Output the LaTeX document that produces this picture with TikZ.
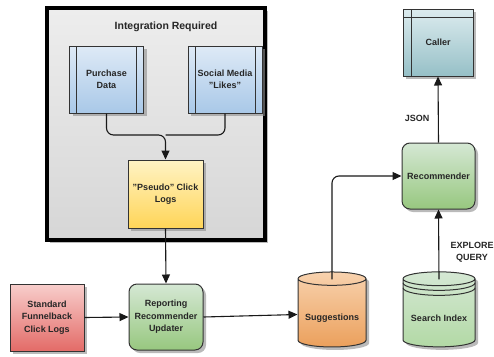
\documentclass[tikz,border=0pt]{standalone}
\usepackage{fontspec}
\setmainfont{Liberation Sans}
\usetikzlibrary{positioning}
\usetikzlibrary{calc}
\usetikzlibrary{arrows.meta}
\usetikzlibrary{shadows}
\usetikzlibrary{shapes.geometric}

\definecolor{linegray}{HTML}{333333}
\definecolor{bluetop}{HTML}{DEEAF6}
\definecolor{bluebot}{HTML}{A9C8E8}
\definecolor{yellowtop}{HTML}{FFF3C4}
\definecolor{yellowbot}{HTML}{FFD558}
\definecolor{greentop}{HTML}{D5E8D4}
\definecolor{greenbot}{HTML}{97C77F}
\definecolor{redtop}{HTML}{F8CECC}
\definecolor{redbot}{HTML}{E36B67}
\definecolor{orangetop}{HTML}{F8D2AE}
\definecolor{orangebot}{HTML}{EBA05C}
\definecolor{tealtop}{HTML}{DCEBEE}
\definecolor{tealbot}{HTML}{96C0C7}
\definecolor{idxbot}{HTML}{B2D9A5}

\begin{document}
\begin{tikzpicture}[x=1pt, y=-1pt,
        every node/.style={font=\fontsize{9}{12.5}\selectfont\bfseries, text=black!85, align=center},
        shade/.style={drop shadow={shadow xshift=3pt, shadow yshift=-3pt, fill=black!45, opacity=.6}},
        box/.style={shade, draw=linegray, line width=1pt, minimum width=74pt, minimum height=67pt},
        procbox/.style={box, top color=bluetop, bottom color=bluebot,
            path picture={\draw[linegray, line width=1pt]
                ([xshift=7pt]path picture bounding box.north west) -- ([xshift=7pt]path picture bounding box.south west)
                ([xshift=-7pt]path picture bounding box.north east) -- ([xshift=-7pt]path picture bounding box.south east);}},
        greenbox/.style={box, rounded corners=8pt, top color=greentop, bottom color=greenbot},
        dbase/.style={shade, cylinder, shape border rotate=90, aspect=0.22, draw=linegray, line width=1pt,
            minimum width=70pt, minimum height=75pt},
        conn/.style={draw=black!90, line width=1.1pt, rounded corners=7pt},
        arr/.style={conn, -{Triangle[length=9pt, width=8pt]}}]
    \useasboundingbox (0,0) rectangle (494,356);

    % integration container
    \draw[shade, line width=3.5pt, top color=black!7, bottom color=black!16] (47,8) rectangle (265,240);
    \node (title) at (166,27) [font=\fontsize{10.5}{12}\selectfont\bfseries] {Integration Required};

    \node (purchase) [procbox] at (106.5,79.5) {Purchase\\Data};
    \node (social) [procbox] at (225,79.5) {Social Media\\"Likes"};
    \node (pseudo) [box, top color=yellowtop, bottom color=yellowbot, minimum width=75pt, minimum height=68pt]
        at (165.5,194) {"Pseudo" Click\\Logs};
    \coordinate (join) at (165.5,135);

    % lower row
    \node (standard) [box, top color=redtop, bottom color=redbot] at (47,317.5) {Standard\\Funnelback\\Click Logs};
    \node (reporting) [greenbox, minimum height=66pt] at (166,317) {Reporting\\Recommender\\Updater};
    \node (suggestions) [dbase, top color=orangetop, bottom color=orangebot, minimum width=68pt] at (332,314.5) {\\[2pt]Suggestions};
    \node (index) [dbase, top color=greentop, bottom color=idxbot, minimum width=72pt] at (439,314.5) {\\[2pt]Search Index};
    \node (recommender) [greenbox, minimum width=73pt, minimum height=66pt] at (438.5,176) {Recommender};
    \node (caller) [box, top color=tealtop, bottom color=tealbot, minimum width=70pt,
        path picture={\draw[linegray, line width=1pt]
            ([yshift=-8pt]path picture bounding box.north west) -- ([yshift=-8pt]path picture bounding box.north east)
            ([xshift=8pt]path picture bounding box.north west) -- ([xshift=8pt]path picture bounding box.south west);}]
        at (438,42.5) {Caller};

    % extra platters of the search index
    \draw[linegray, line width=1pt] ([shift={(-36pt,-11.5pt)}]index.north) arc[start angle=180, end angle=360, x radius=36pt, y radius=7.5pt]
        ([shift={(-36pt,-16.5pt)}]index.north) arc[start angle=180, end angle=360, x radius=36pt, y radius=7.5pt];

    \node (json) at (417,118) {JSON};
    \node (explore) at (472,252) {EXPLORE\\QUERY};

    % connectors
    \draw[arr] (purchase.south) |- (join) -- (pseudo.north);
    \draw[conn] (social.south) |- (join);
    \draw[arr] (pseudo.south) -- (reporting.north);
    \draw[arr] (standard.east) -- (reporting.west);
    \draw[arr] (reporting.east) -- (suggestions.west);
    \draw[arr] ([yshift=-8pt]suggestions.north) |- (recommender.west);
    \draw[arr] ([yshift=-8pt]index.north) -- (recommender.south);
    \draw[arr] (recommender.north) -- (caller.south);
\end{tikzpicture}
\end{document}
